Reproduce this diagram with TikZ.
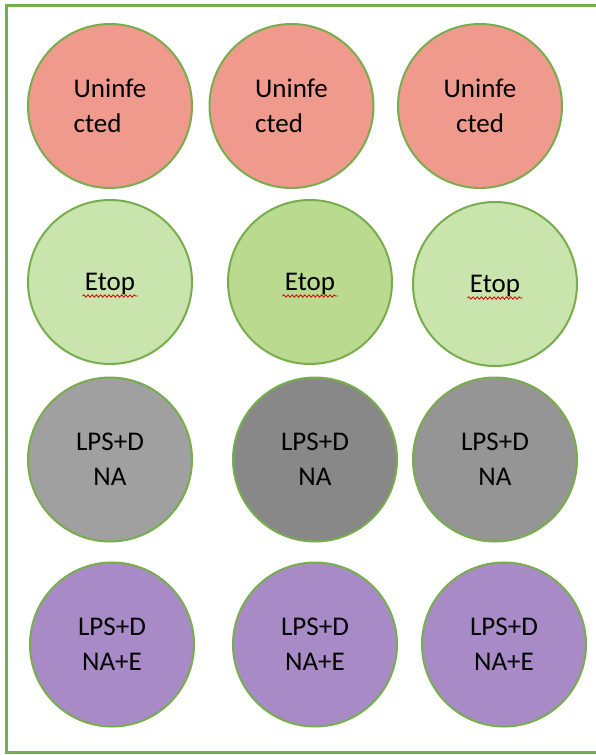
\documentclass[tikz,border=0pt]{standalone}
\usepackage{fontspec}
\setmainfont{Carlito}
\usetikzlibrary{decorations.pathmorphing,calc}
\definecolor{edgegreen}{HTML}{78AD4E}
\definecolor{redfill}{HTML}{F09A8E}
\definecolor{lgreen}{HTML}{CAE4AD}
\definecolor{mgreen}{HTML}{BADA90}
\definecolor{grayA}{HTML}{A0A0A0}
\definecolor{grayB}{HTML}{888888}
\definecolor{grayC}{HTML}{959595}
\definecolor{purp}{HTML}{A88BC6}
\tikzset{
  well/.style={circle, draw=edgegreen, line width=2pt, minimum size=164pt, inner sep=0pt,
    font=\fontsize{27}{35}\selectfont, text=black, align=center},
  lefttext/.style={align=left},
  etop/.style={text depth=0pt},
  spell/.style={draw=red!85!black, line width=0.8pt, decorate,
    decoration={snake, amplitude=1.2pt, segment length=4.2pt}},
}
\begin{document}
\begin{tikzpicture}[x=1pt, y=-1pt]
\useasboundingbox (0,0) rectangle (595,755);
\fill[white] (0,0) rectangle (595,755);
\draw[edgegreen, line width=3pt] (597,5) -- (6.5,5) -- (6.5,752) -- (597,752);

% row 1
\node[well, fill=redfill, lefttext] (u1) at (110,106) {Uninfe\\cted};
\node[well, fill=redfill, lefttext] (u2) at (291.5,106) {Uninfe\\cted};
\node[well, fill=redfill] (u3) at (480,106) {Uninfe\\cted};

% row 2
\node[well, etop, fill=lgreen] (e1) at (110,282) {Etop};
\node[well, etop, fill=mgreen] (e2) at (310,282) {Etop};
\node[well, etop, fill=lgreen] (e3) at (495,284) {Etop};
\foreach \n in {e1,e2,e3}{
  \draw[spell] ($(\n.center)+(-27.5,14)$) -- ($(\n.center)+(27.5,14)$);
}

% row 3
\node[well, fill=grayA] (d1) at (110,459.5) {LPS+D\\NA};
\node[well, fill=grayB] (d2) at (315,459.5) {LPS+D\\NA};
\node[well, fill=grayC] (d3) at (495,459.5) {LPS+D\\NA};

% row 4
\node[well, fill=purp] (p1) at (112,644.5) {LPS+D\\NA+E};
\node[well, fill=purp] (p2) at (315,644.5) {LPS+D\\NA+E};
\node[well, fill=purp] (p3) at (504,644.5) {LPS+D\\NA+E};
\end{tikzpicture}
\end{document}
